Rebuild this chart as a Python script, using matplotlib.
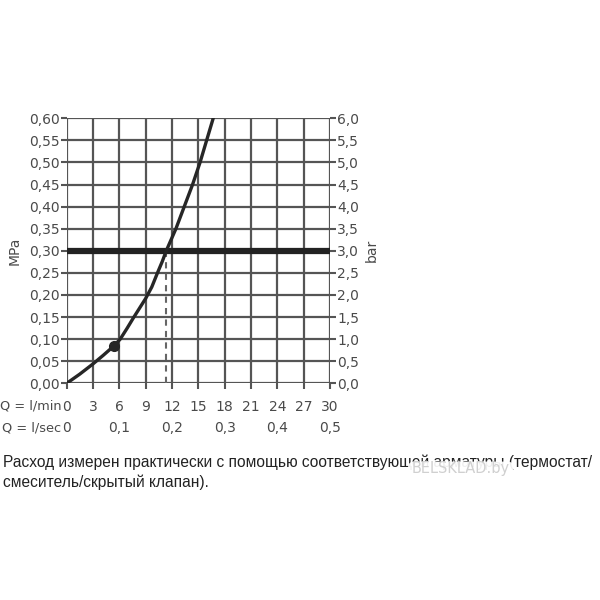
import matplotlib.pyplot as plt
import matplotlib.transforms as mtransforms
from matplotlib.patches import FancyBboxPatch

# flow curve (Q in l/min, p in MPa)
q_lmin = [0, 1.5, 3, 4.2, 5.4, 6.1, 6.9, 7.6, 8.3, 9.0, 9.7, 10.35, 10.9, 11.35,
          11.9, 12.45, 13.4, 14.35, 15.2, 15.95, 16.7]
p_mpa = [0, 0.021, 0.044, 0.064, 0.085, 0.10, 0.125, 0.148, 0.170, 0.192, 0.218, 0.25,
         0.276, 0.30, 0.325, 0.35, 0.40, 0.45, 0.50, 0.55, 0.60]

dot_q = 5.4
dot_p = 0.085
ref_p = 0.30
ref_q = 11.36

lmin_ticks = [0, 3, 6, 9, 12, 15, 18, 21, 24, 27, 30]
lsec_pos = [0, 6, 12, 18, 24, 30]
lsec_labels = ['0', '0,1', '0,2', '0,3', '0,4', '0,5']
mpa_ticks = [0.00, 0.05, 0.10, 0.15, 0.20, 0.25, 0.30, 0.35, 0.40, 0.45, 0.50, 0.55, 0.60]
bar_ticks = [0.0, 0.5, 1.0, 1.5, 2.0, 2.5, 3.0, 3.5, 4.0, 4.5, 5.0, 5.5, 6.0]

caption = ("Расход измерен практически с помощью соответствующей арматуры (термостат/\n"
           "смеситель/скрытый клапан).")

txt = '#4a4a4a'
grid_c = '#555555'
fs = 10

fig = plt.figure(figsize=(6, 6), dpi=100)
ax = fig.add_axes([0.111, 0.361, 0.439, 0.442])

ax.set_xlim(0, 30)
ax.set_ylim(0, 0.60)
for q in lmin_ticks:
    ax.axvline(q, color=grid_c, lw=1.6, zorder=1)
for p in mpa_ticks:
    ax.axhline(p, color=grid_c, lw=1.6, zorder=1)
ax.axhline(ref_p, color='#222222', lw=4.5, zorder=2)
ax.plot([ref_q, ref_q], [0, ref_p], color='#666666', lw=1.5, ls=(0, (3, 2.5)), zorder=2)
ax.plot(q_lmin, p_mpa, color='#262626', lw=2.4, zorder=3, solid_capstyle='round',
        solid_joinstyle='round')
ax.plot([dot_q], [dot_p], 'o', color='#262626', ms=7, zorder=4)

for s in ax.spines.values():
    s.set_visible(False)

ax.set_yticks(mpa_ticks)
ax.set_yticklabels([('%.2f' % v).replace('.', ',') for v in mpa_ticks])
ax.tick_params(axis='y', direction='out', length=4, width=1.5, color=grid_c,
               labelsize=fs, labelcolor=txt, pad=1)
ax.set_xticks(lmin_ticks)
ax.set_xticklabels([str(v) for v in lmin_ticks])
ax.tick_params(axis='x', direction='out', length=4, width=1.5, color=grid_c,
               labelsize=fs, labelcolor=txt, pad=8)
ax.set_ylabel('MPa', color=txt, fontsize=fs, labelpad=5)

ax2 = ax.twinx()
ax2.set_ylim(0, 6.0)
ax2.set_yticks(bar_ticks)
ax2.set_yticklabels([('%.1f' % v).replace('.', ',') for v in bar_ticks])
ax2.tick_params(axis='y', direction='out', length=4, width=1.5, color=grid_c,
                labelsize=fs, labelcolor=txt, pad=1)
for s in ax2.spines.values():
    s.set_visible(False)
ax2.set_ylabel('bar', color=txt, fontsize=fs, labelpad=4)

trans = mtransforms.blended_transform_factory(ax.transData, fig.transFigure)
ax.text(-0.6, 1 - 406 / 600, 'Q = l/min', transform=trans, ha='right', va='center',
        fontsize=9.3, color=txt)
ax.text(-0.6, 1 - 428 / 600, 'Q = l/sec', transform=trans, ha='right', va='center',
        fontsize=9.3, color=txt)
for pos, lab in zip(lsec_pos, lsec_labels):
    ax.text(pos, 1 - 428 / 600, lab, transform=trans, ha='center', va='center',
            fontsize=fs, color=txt)

fig.text(0.005, 1 - 455 / 600, caption, ha='left', va='top', fontsize=11.2,
         family='Liberation Sans', color='#222222', linespacing=1.3, zorder=3)

# watermark box partly hides the caption
box = FancyBboxPatch((0.682, 1 - 479 / 600), 0.172, 0.027,
                     boxstyle='round,pad=0.002,rounding_size=0.01',
                     transform=fig.transFigure, facecolor='white', edgecolor='none',
                     alpha=0.93, zorder=4)
fig.patches.append(box)
fig.text(0.767, 1 - 469 / 600, 'BELSKLAD.by', ha='center', va='center', fontsize=10.5,
         color='#d0d0d0', family='DejaVu Sans', zorder=5)

fig.savefig('out.png', dpi=100, facecolor='white')
